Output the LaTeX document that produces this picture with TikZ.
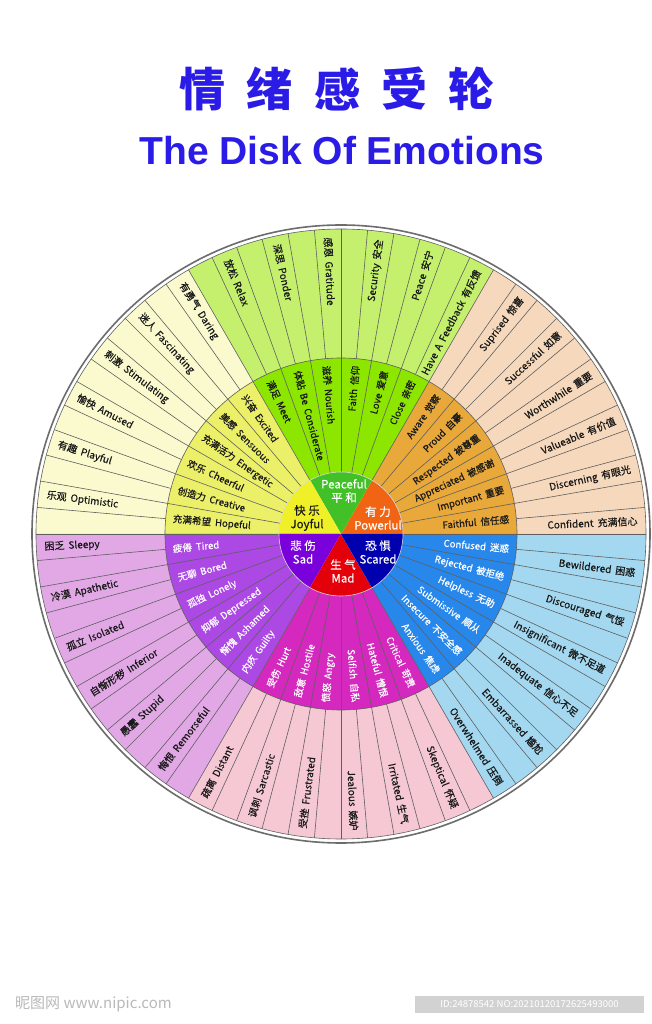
\documentclass[tikz,border=0pt]{standalone}
\usepackage{fontspec}
\setmainfont{Noto Sans CJK SC}
\newfontfamily\labfont{Noto Sans CJK SC}[FakeBold=0.35]
\newfontfamily\titlefont{Liberation Sans}
\definecolor{pcore}{RGB}{66,192,40}
\definecolor{pmid}{RGB}{140,230,0}
\definecolor{pout}{RGB}{196,240,110}
\definecolor{jcore}{RGB}{240,240,40}
\definecolor{jmid}{RGB}{236,240,104}
\definecolor{jout}{RGB}{250,250,206}
\definecolor{wcore}{RGB}{240,100,20}
\definecolor{wmid}{RGB}{232,168,58}
\definecolor{wout}{RGB}{246,216,188}
\definecolor{score}{RGB}{0,0,175}
\definecolor{smid}{RGB}{40,135,235}
\definecolor{sout}{RGB}{163,216,240}
\definecolor{mcore}{RGB}{228,0,10}
\definecolor{mmid}{RGB}{212,40,190}
\definecolor{mout}{RGB}{245,200,212}
\definecolor{dcore}{RGB}{122,0,220}
\definecolor{dmid}{RGB}{172,72,228}
\definecolor{dout}{RGB}{226,168,230}
\definecolor{titleblue}{RGB}{42,28,230}
\definecolor{gridgray}{RGB}{95,95,95}
\definecolor{txt}{RGB}{25,25,25}
\newcommand\radlab[5]{%
  \pgfmathtruncatemacro\rside{cos(#2)>0}%
  \pgfmathsetmacro\rrot{#2+180}%
  \ifnum\rside=1
    \node[#5, rotate=#2, anchor=east] (#1) at (#2:#3) {#4};
  \else
    \node[#5, rotate=\rrot, anchor=west] (#1) at (#2:#3) {#4};
  \fi}
\newcommand\widesp{\spaceskip=4pt\relax}
\tikzset{
  grid/.style={draw=gridgray, line width=0.6pt},
  outlab/.style={font=\labfont\fontsize{10}{12}\selectfont, text=txt, inner sep=0pt, execute at begin node=\widesp},
  midlab/.style={font=\labfont\fontsize{9.6}{12}\selectfont, inner sep=0pt, execute at begin node=\widesp},
  corelab/.style={font=\labfont\fontsize{11.5}{13.5}\selectfont, align=center, inner sep=0pt},
  titlechar/.style={font=\bfseries\fontsize{46}{50}\selectfont, text=titleblue, inner sep=0pt}
}
\begin{document}
\begin{tikzpicture}[x=1pt,y=1pt]
\useasboundingbox (-341,-490) rectangle (310,534);
\fill[white] (-341,-490) rectangle (310,534);
% title
\foreach \c [count=\i] in {情,绪,感,受,轮}
  \node[titlechar] (t\i) at ({-138+67*(\i-1)},445) {\c};
\node[font=\titlefont\bfseries\fontsize{39}{42}\selectfont, text=titleblue, inner sep=0pt] (subtitle) at (1,383) {The Disk Of Emotions};
% outer gray circle
\draw[draw=gray!85!black, line width=1.6pt] (0,0) circle[radius=309];
% sectors: start angle / outer / mid / core
\foreach \s/\co/\cm/\cc in {0/wout/wmid/wcore, 60/pout/pmid/pcore, 120/jout/jmid/jcore, 180/dout/dmid/dcore, 240/mout/mmid/mcore, 300/sout/smid/score}{
  \fill[\co] (0,0) -- (\s:305) arc[start angle=\s, end angle=\s+60, radius=305] -- cycle;
  \fill[\cm] (0,0) -- (\s:176) arc[start angle=\s, end angle=\s+60, radius=176] -- cycle;
  \fill[\cc] (0,0) -- (\s:62) arc[start angle=\s, end angle=\s+60, radius=62] -- cycle;
}
\foreach \a in {0,5,...,355} \draw[grid] (\a:176) -- (\a:305);
\foreach \a in {0,10,...,350} \draw[grid] (\a:62) -- (\a:176);
\draw[grid] (0,0) circle[radius=176];
\draw[grid] (0,0) circle[radius=305];
\draw[draw=white!70!gray, line width=0.6pt] (0,0) circle[radius=62];
% outer labels
\foreach \t [count=\i] in {
 {Confident 充满信心},{Discerning 有眼光},{Valueable 有价值},{Worthwhile 重要},{Successful 如意},{Suprised 惊喜},
 {Have A Feedback 有反馈},{Peace 安宁},{Security 安全},{感恩 Gratitude},{深思 Ponder},{放松 Relax},
 {有勇气 Daring},{迷人 Fascinating},{刺激 Stimulating},{愉快 Amused},{有趣 Playful},{乐观 Optimistic},
 {困乏 Sleepy},{冷漠 Apathetic},{孤立 Isolated},{自惭形秽 Inferior},{愚蠢 Stupid},{悔恨 Remorseful},
 {疏离 Distant},{讽刺 Sarcastic},{受挫 Frustrated},{Jealous 嫉妒},{Irritated 生气},{Skeptical 怀疑},
 {Overwhelmed 压倒},{Embarrassed 尴尬},{Inadequate 信心不足},{Insignificant 微不足道},{Discouraged 气馁},{Bewildered 困惑}}{
  \pgfmathsetmacro\ang{2.5+10*(\i-1)}
  \radlab{o\i}{\ang}{297}{\t}{outlab}
}
% middle labels
\foreach \t [count=\i] in {
 {Faithful 信任感},{Important 重要},{Appreciated 被感谢},{Respected 被尊重},{Proud 自豪},{Aware 觉察},
 {Close 亲密},{Love 爱意},{Faith 信仰},{滋养 Nourish},{体贴 Be Considerate},{满足 Meet},
 {兴奋 Excited},{美感 Sensuous},{充满活力 Energetic},{欢乐 Cheerful},{创造力 Creative},{充满希望 Hopeful},
 {疲倦 Tired},{无聊 Bored},{孤独 Lonely},{抑郁 Depressed},{惭愧 Ashamed},{内疚 Guilty},
 {受伤 Hurt},{敌意 Hostile},{愤怒 Angry},{Selfish 自私},{Hateful 憎恨},{Critical 苛责},
 {Anxious 焦虑},{Insecure 不安全感},{Submissive 顺从},{Helpless 无助},{Rejected 被拒绝},{Confused 迷惑}}{
  \pgfmathsetmacro\ang{5+10*(\i-1)}
  \ifnum\i>18 \def\tc{white}\else\def\tc{txt}\fi
  \radlab{m\i}{\ang}{169}{\t}{midlab, text=\tc}
}
% core labels
\node[corelab, text=white] (peaceful) at (3,43) {Peaceful\\平 和};
\node[corelab, text=txt] (joyful) at (-34,16) {快 乐\\Joyful};
\node[corelab, text=white] (powerful) at (37,16) {有 力\\Powerlul};
\node[corelab, text=white] (scared) at (37,-18) {恐 惧\\Scared};
\node[corelab, text=white] (sad) at (-38,-18) {悲 伤\\Sad};
\node[corelab, text=white] (mad) at (2,-37) {生 气\\Mad};
% watermark
\node[font=\fontsize{15}{16}\selectfont, text=gray!55, anchor=west, inner sep=0pt] (logo) at (-326,-470) {昵图网 www.nipic.com};
\fill[gray!35] (74,-462) rectangle (303,-479);
\node[font=\fontsize{9.5}{10}\selectfont, text=white, inner sep=0pt] (idtxt) at (188.5,-470.5) {ID:24878542 NO:20210120172625493000};
\end{tikzpicture}
\end{document}
